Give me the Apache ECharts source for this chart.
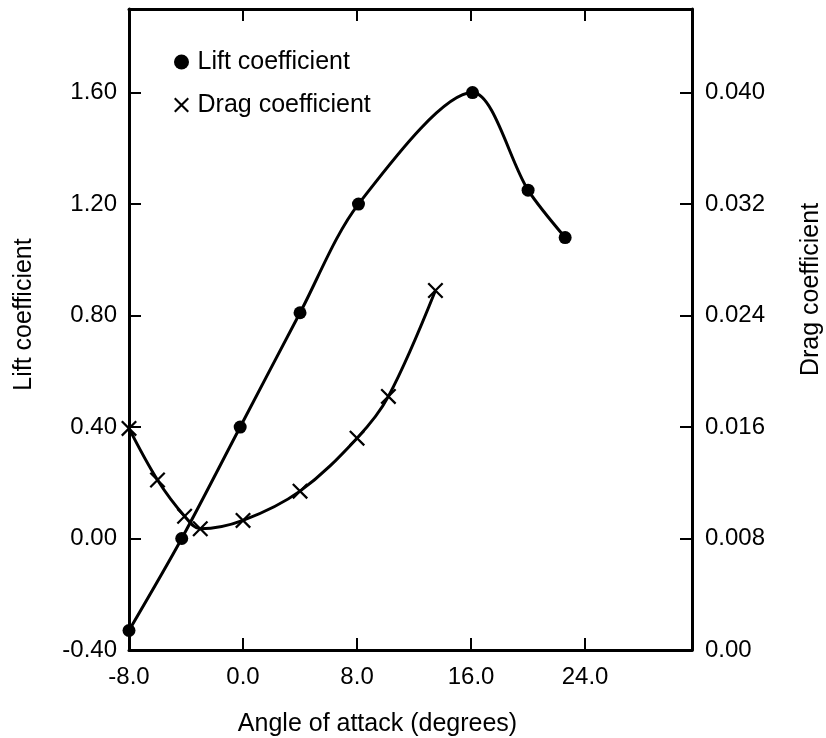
<!DOCTYPE html>
<html>
<head>
<meta charset="utf-8">
<script src="https://cdn.jsdelivr.net/npm/echarts@6/dist/echarts.min.js"></script>
<style>
    html, body { margin: 0; padding: 0; background: #fff; }
    #chart { width: 826px; height: 738px; }
</style>
</head>
<body>
<div id="chart"></div>
<script>
// 升力系数 (angle, lift)
const liftAngle = [-8, -4.3, -0.2, 4, 8.1, 16.1, 20, 22.6];
const liftValue = [-0.33, 0.00, 0.40, 0.81, 1.20, 1.60, 1.25, 1.08];
// 阻力系数 (angle, drag)
const dragAngle = [-8, -6, -4.1, -3, 0, 4, 8, 10.2, 13.5];
const dragValue = [0.0159, 0.0122, 0.0096, 0.0087, 0.0093, 0.0114, 0.0152, 0.0182, 0.0258];

const xTicks = [-8, 0, 8, 16, 24];
const liftTicks = [-0.4, 0, 0.4, 0.8, 1.2, 1.6];
const dragTicks = [0, 0.008, 0.016, 0.024, 0.032, 0.040];

const font = 'Liberation Sans, Arial, sans-serif';
const crossPath = 'path://M0,1 L1,0 L10,9 L9,10 Z M9,0 L10,1 L1,10 L0,9 Z';

const zip = (xs, ys) => xs.map((x, i) => [x, ys[i]]);

let chart = echarts.init(document.getElementById('chart'), null, {renderer: 'canvas'});

const axisLine = {show: true, onZero: false, lineStyle: {color: '#000', width: 3}};
const axisTick = {show: true, inside: true, length: 12, lineStyle: {color: '#000', width: 2}};

let option = {
    animation: false,
    backgroundColor: '#fff',
    textStyle: {fontFamily: font, color: '#000'},
    grid: {left: 129, right: 134, top: 9, bottom: 88, containLabel: false, outerBoundsMode: 'none'},
    legend: {
        orient: 'vertical',
        left: 169,
        top: 43,
        itemWidth: 22,
        itemHeight: 15,
        itemGap: 15,
        selectedMode: false,
        textStyle: {fontSize: 25, fontFamily: font, color: '#000', lineHeight: 28},
        data: [
            {name: 'Lift coefficient', icon: 'circle'},
            {name: 'Drag coefficient', icon: crossPath}
        ]
    },
    xAxis: [
        {
            type: 'value',
            position: 'bottom',
            min: xTicks[0],
            max: 31.5,
            interval: 8,
            name: 'Angle of attack (degrees)',
            nameLocation: 'middle',
            nameGap: 62,
            nameTextStyle: {fontSize: 25, fontFamily: font, color: '#000', padding: [0, 66, 0, 0]},
            axisLine: axisLine,
            axisTick: axisTick,
            splitLine: {show: false},
            axisLabel: {
                fontSize: 24, fontFamily: font, color: '#000', margin: 15,
                showMaxLabel: false,
                formatter: v => xTicks.includes(v) ? v.toFixed(1) : ''
            }
        },
        {
            type: 'value',
            position: 'top',
            min: xTicks[0],
            max: 31.5,
            interval: 8,
            axisLine: axisLine,
            axisTick: axisTick,
            splitLine: {show: false},
            axisLabel: {show: false}
        }
    ],
    yAxis: [
        {
            type: 'value',
            position: 'left',
            min: liftTicks[0],
            max: 1.9,
            interval: 0.4,
            name: 'Lift coefficient',
            nameLocation: 'middle',
            nameRotate: 90,
            nameGap: 92,
            nameTextStyle: {fontSize: 25, fontFamily: font, color: '#000', padding: [0, 0, 0, 30]},
            axisLine: axisLine,
            axisTick: axisTick,
            splitLine: {show: false},
            axisLabel: {
                fontSize: 24, fontFamily: font, color: '#000', margin: 12,
                showMaxLabel: false,
                formatter: v => {
                    let hit = liftTicks.find(t => Math.abs(t - v) < 1e-6);
                    return hit === undefined ? '' : hit.toFixed(2);
                }
            }
        },
        {
            type: 'value',
            position: 'right',
            min: dragTicks[0],
            max: 0.046,
            interval: 0.008,
            name: 'Drag coefficient',
            nameLocation: 'middle',
            nameRotate: 90,
            nameGap: 107,
            nameTextStyle: {fontSize: 25, fontFamily: font, color: '#000', padding: [0, 0, 0, 80]},
            axisLine: axisLine,
            axisTick: axisTick,
            splitLine: {show: false},
            axisLabel: {
                fontSize: 24, fontFamily: font, color: '#000', margin: 13,
                showMaxLabel: false,
                formatter: v => {
                    let hit = dragTicks.find(t => Math.abs(t - v) < 1e-7);
                    if (hit === undefined) return '';
                    return hit === 0 ? '0.00' : hit.toFixed(3);
                }
            }
        }
    ],
    series: [
        {
            name: 'Lift coefficient',
            type: 'line',
            xAxisIndex: 0,
            yAxisIndex: 0,
            smooth: 0.3,
            symbol: 'circle',
            symbolSize: 13,
            itemStyle: {color: '#000'},
            lineStyle: {color: '#000', width: 3},
            data: zip(liftAngle, liftValue)
        },
        {
            name: 'Drag coefficient',
            type: 'line',
            xAxisIndex: 0,
            yAxisIndex: 1,
            smooth: 0.35,
            symbol: crossPath,
            symbolSize: 16,
            itemStyle: {color: '#000'},
            lineStyle: {color: '#000', width: 3},
            data: zip(dragAngle, dragValue)
        }
    ]
};
chart.setOption(option);
</script>
</body>
</html>
